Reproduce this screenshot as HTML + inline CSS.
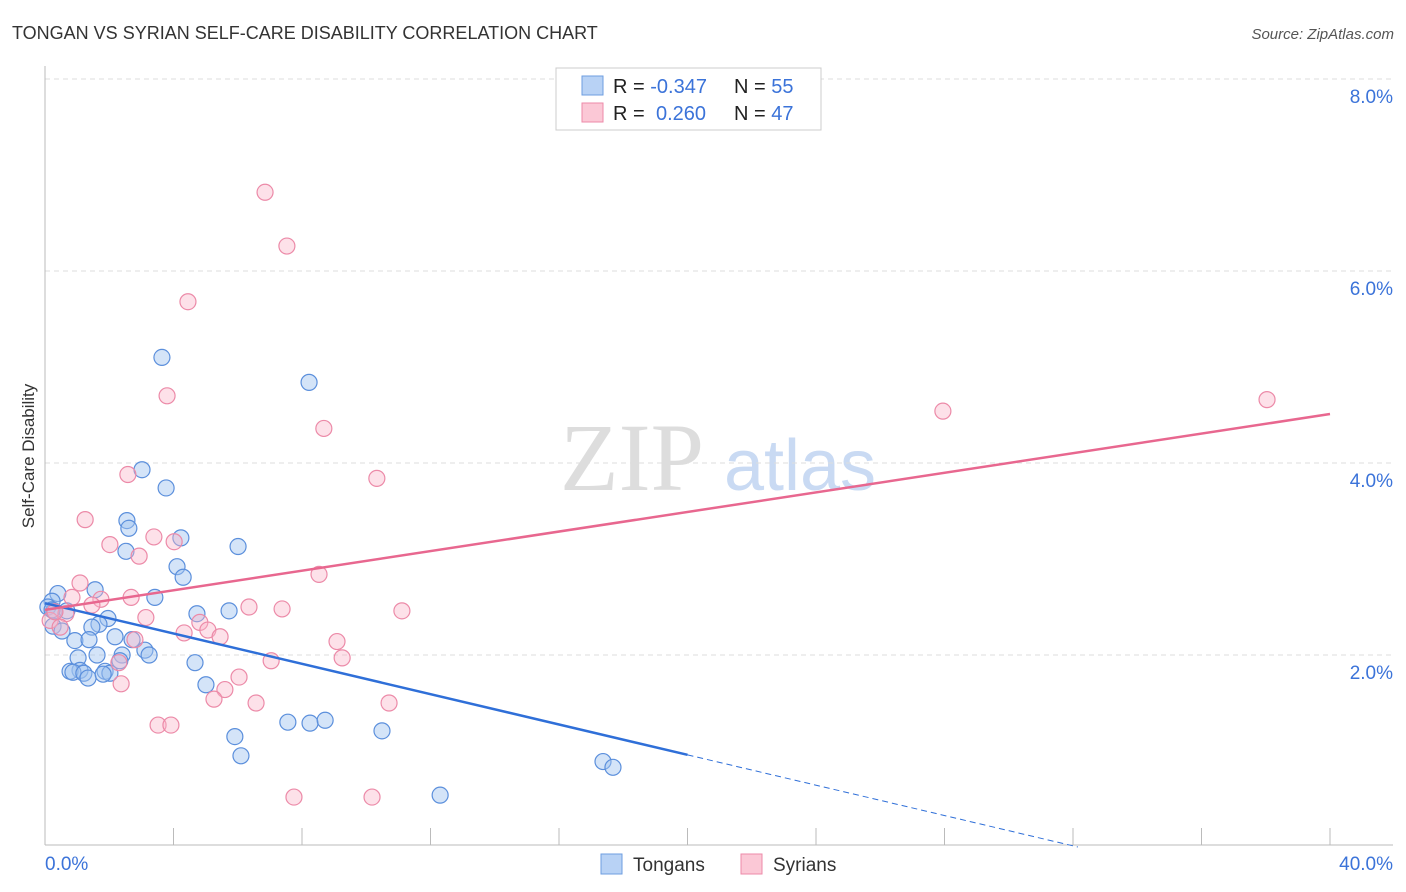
<!DOCTYPE html>
<html><head><meta charset="utf-8"><style>
body{margin:0;background:#fff;font-family:"Liberation Sans",sans-serif;}
svg{display:block}
</style></head><body>
<svg id="chart" width="1406" height="892">
<text x="12" y="39" font-size="18" fill="#333">TONGAN VS SYRIAN SELF-CARE DISABILITY CORRELATION CHART</text>
<text x="1394" y="39" font-size="15" fill="#555" text-anchor="end" font-style="italic">Source: ZipAtlas.com</text>
<text x="34" y="456" font-size="17" fill="#333" text-anchor="middle" transform="rotate(-90 34 456)">Self-Care Disability</text>
<g>
<text x="632" y="490" font-size="96" fill="#ddd" text-anchor="middle" font-family="Liberation Serif,serif">ZIP</text>
<text x="800" y="490" font-size="72" fill="#c9daf3" text-anchor="middle">atlas</text>
</g>
<g id="grid"></g>
<g id="axes"></g>
<g id="marks"></g>
<g>
<rect x="556" y="68" width="265" height="62" fill="#fff" stroke="#ccc"/>
<rect x="582" y="76" width="21" height="19" fill="#b8d2f5" stroke="#6e9ee0"/>
<rect x="582" y="103" width="21" height="19" fill="#fbc8d6" stroke="#ec8aa8"/>
<text x="613" y="93" font-size="20" fill="#222">R = <tspan fill="#3b73d9">-0.347</tspan><tspan x="734">N = </tspan><tspan fill="#3b73d9">55</tspan></text>
<text x="613" y="120" font-size="20" fill="#222">R = <tspan x="656" fill="#3b73d9">0.260</tspan><tspan x="734">N = </tspan><tspan fill="#3b73d9">47</tspan></text>
</g>
<g>
<rect x="601" y="854" width="21" height="20" fill="#b8d2f5" stroke="#6e9ee0"/>
<text x="633" y="871" font-size="19" fill="#333">Tongans</text>
<rect x="741" y="854" width="21" height="20" fill="#fbc8d6" stroke="#ec8aa8"/>
<text x="773" y="871" font-size="19" fill="#333">Syrians</text>
</g>
</svg>
<script>
const yTicks=[2,4,6,8];
const yTickLabels=["2.0%","4.0%","6.0%","8.0%"];
const xTicks=[0,4,8,12,16,20,24,28,32,36,40];
const xEndLabels=["0.0%","40.0%"];
const tonganX=[3.64,8.22,3.02,3.77,2.55,2.61,4.23,2.52,6.01,4.11,4.30,1.56,3.42,0.40,0.22,0.09,0.28,0.68,4.73,5.73,1.96,1.68,1.46,0.25,0.53,2.18,0.93,1.37,2.71,3.11,3.24,2.40,1.03,1.62,2.33,4.67,1.09,0.78,0.87,1.21,1.87,2.02,1.34,5.01,1.81,5.91,6.10,7.56,8.25,8.72,10.49,12.30,17.37,17.68,0.22];
const tonganY=[5.10,4.84,3.93,3.74,3.40,3.32,3.22,3.08,3.13,2.92,2.81,2.68,2.60,2.64,2.56,2.50,2.46,2.46,2.43,2.46,2.38,2.32,2.29,2.30,2.25,2.19,2.15,2.16,2.16,2.05,2.00,2.00,1.97,2.00,1.94,1.92,1.84,1.83,1.82,1.81,1.83,1.81,1.76,1.69,1.80,1.15,0.95,1.30,1.29,1.32,1.21,0.54,0.89,0.83,2.47];
const syrianX=[6.85,7.53,4.45,3.80,8.68,27.95,38.04,2.58,10.33,1.25,3.39,2.02,4.02,2.93,8.53,1.09,0.84,1.74,2.68,1.46,0.65,0.16,0.47,6.35,7.38,11.11,3.14,4.82,5.07,4.33,5.45,2.80,9.09,9.25,7.04,2.30,6.04,5.60,2.37,5.26,6.57,10.71,3.52,3.92,7.75,10.18,0.31];
const syrianY=[6.82,6.26,5.68,4.70,4.36,4.54,4.66,3.88,3.84,3.41,3.23,3.15,3.18,3.03,2.84,2.75,2.60,2.58,2.60,2.52,2.43,2.36,2.29,2.50,2.48,2.46,2.39,2.34,2.26,2.23,2.19,2.16,2.14,1.97,1.94,1.92,1.77,1.64,1.70,1.54,1.50,1.50,1.27,1.27,0.52,0.52,2.45];
const tonganTrend=[2.54,-0.079]; // intercept, slope
const syrianTrend=[2.47,0.051];
const tonganSolidEnd=20;

const NS="http://www.w3.org/2000/svg";
const xs=v=>45+v*32.125;
const ys=v=>847-v*96;
function mk(tag,attrs,parent){const e=document.createElementNS(NS,tag);for(const k in attrs)e.setAttribute(k,attrs[k]);parent.appendChild(e);return e;}
const grid=document.getElementById('grid'),axes=document.getElementById('axes'),marks=document.getElementById('marks');
yTicks.forEach((t,i)=>{
  const l=mk('line',{x1:45,x2:1393,y1:ys(t),y2:ys(t),stroke:'#ddd','stroke-dasharray':'5,4'},grid);
  
  
  const tx=mk('text',{x:1393,y:ys(t)+24,'font-size':19,fill:'#3b73d9','text-anchor':'end'},axes);
  tx.textContent=yTickLabels[i];
  
  
});
const ya=mk('line',{x1:45,x2:45,y1:66,y2:845,stroke:'#bbb'},axes);


const xa=mk('line',{x1:45,x2:1393,y1:845,y2:845,stroke:'#bbb'},axes);


xTicks.forEach(t=>{
  const l=mk('line',{x1:xs(t),x2:xs(t),y1:828,y2:845,stroke:'#bbb'},axes);
  
  
});
const xl0=mk('text',{x:45,y:870,'font-size':19,fill:'#3b73d9'},axes);xl0.textContent=xEndLabels[0];


const xl1=mk('text',{x:1393,y:870,'font-size':19,fill:'#3b73d9','text-anchor':'end'},axes);xl1.textContent=xEndLabels[1];


function pts(X,Y,fill,stroke,name){X.forEach((x,i)=>{
  const c=mk('circle',{cx:xs(x),cy:ys(Y[i]),r:8,fill:fill,stroke:stroke,'stroke-width':1.2},marks);
  
  
});}
pts(tonganX,tonganY,'rgba(160,195,240,0.45)','#5b8fdc','tongan-point');
pts(syrianX,syrianY,'rgba(250,180,200,0.4)','#ec8aa8','syrian-point');
const tl=mk('line',{x1:xs(0),y1:ys(tonganTrend[0]),x2:xs(tonganSolidEnd),y2:ys(tonganTrend[0]+tonganTrend[1]*tonganSolidEnd),stroke:'#2f6fd8','stroke-width':2.5},marks);


const xz=-tonganTrend[0]/tonganTrend[1];
const td=mk('line',{x1:xs(tonganSolidEnd),y1:ys(tonganTrend[0]+tonganTrend[1]*tonganSolidEnd),x2:xs(xz),y2:ys(0),stroke:'#2f6fd8','stroke-width':1,'stroke-dasharray':'6,4'},marks);


const sl=mk('line',{x1:xs(0),y1:ys(syrianTrend[0]),x2:xs(40),y2:ys(syrianTrend[0]+syrianTrend[1]*40),stroke:'#e8678f','stroke-width':2.5},marks);


</script>
</body></html>
